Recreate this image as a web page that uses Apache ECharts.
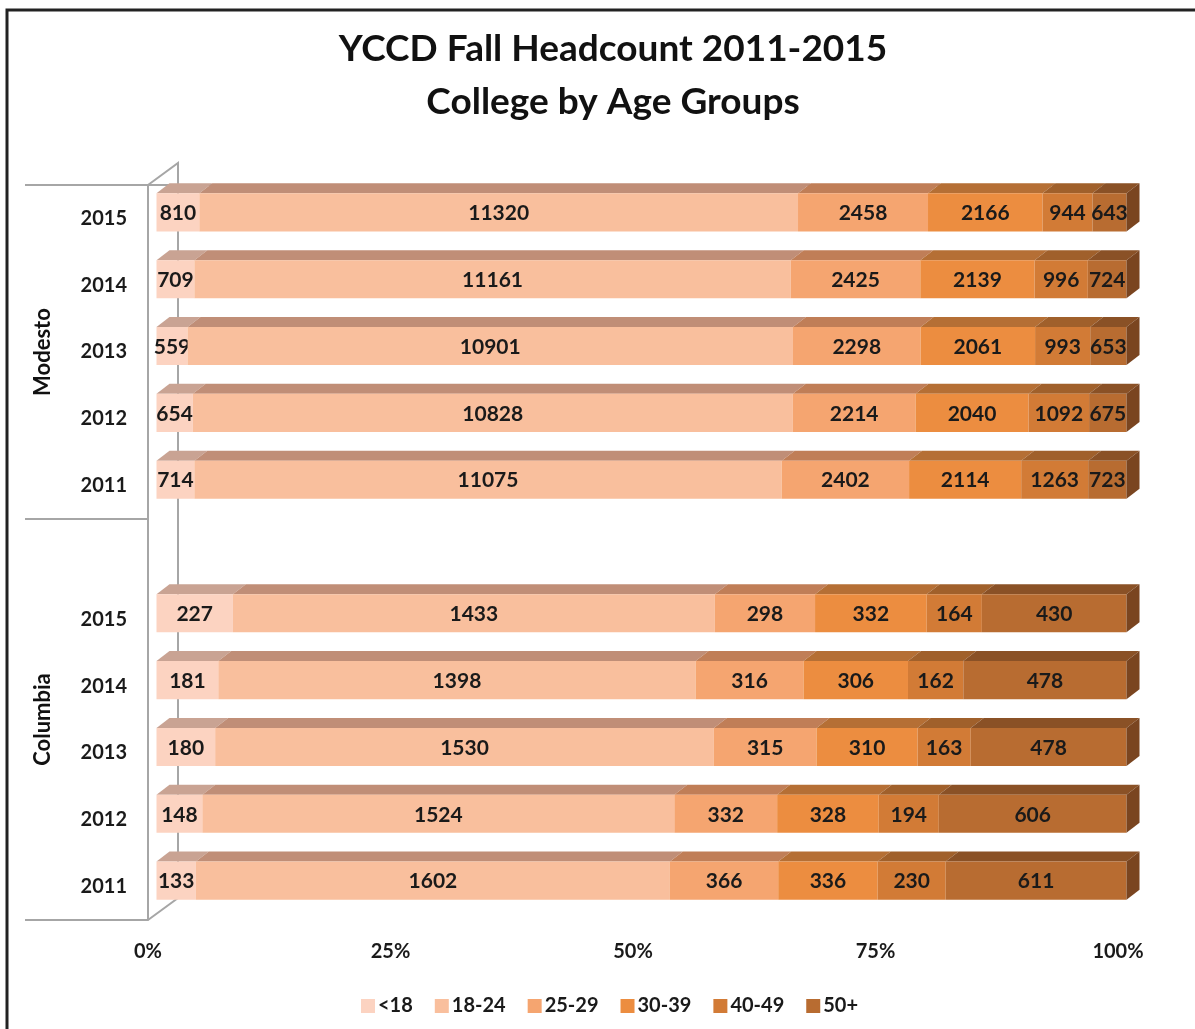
<!DOCTYPE html>
<html>
<head>
<meta charset="utf-8">
<title>YCCD Fall Headcount</title>
<script src="https://cdn.jsdelivr.net/npm/echarts@6/dist/echarts.min.js"></script>
<style>
  html, body { margin: 0; padding: 0; background: #fff; }
  #chart { width: 1195px; height: 1029px; }
</style>
</head>
<body>
<div id="chart"></div>
<script>
// rows top to bottom: Modesto 2015..2011, a blank row, Columbia 2015..2011
var rowLabels = ['2015', '2014', '2013', '2012', '2011', '', '2015', '2014', '2013', '2012', '2011'];
var ageGroups = ['<18', '18-24', '25-29', '30-39', '40-49', '50+'];

var under18 = [810, 709, 559, 654, 714, null, 227, 181, 180, 148, 133];
var age18to24 = [11320, 11161, 10901, 10828, 11075, null, 1433, 1398, 1530, 1524, 1602];
var age25to29 = [2458, 2425, 2298, 2214, 2402, null, 298, 316, 315, 332, 366];
var age30to39 = [2166, 2139, 2061, 2040, 2114, null, 332, 306, 310, 328, 336];
var age40to49 = [944, 996, 993, 1092, 1263, null, 164, 162, 163, 194, 230];
var age50plus = [643, 724, 653, 675, 723, null, 430, 478, 478, 606, 611];

var colleges = ['Modesto', 'Columbia'];
var xTicks = [0, 25, 50, 75, 100];

var counts = [under18, age18to24, age25to29, age30to39, age40to49, age50plus];
var colors = ['#fcd3c1', '#f9bf9d', '#f5a570', '#ec8d40', '#d27b36', '#b86c31'];
var topColors = ['#c9a393', '#c08e77', '#c07e57', '#b56f35', '#a0602b', '#8a5126'];
var sideColor = '#7a4520';

// 3d look: walls are 30x22 deep, bars sit in the middle and are 13x10 deep
var gridLeft = 148, gridTop = 185, gridBottomY = 920, gridRightX = 1118;
var wallDx = 30, wallDy = 22;
var barDx = 13, barDy = 10;

// cumulative percentages for each row
var seriesData = ageGroups.map(function () { return []; });
rowLabels.forEach(function (label, r) {
    if (under18[r] == null) return;
    var total = 0;
    counts.forEach(function (arr) { total += arr[r]; });
    var acc = 0;
    counts.forEach(function (arr, s) {
        var start = acc / total * 100;
        acc += arr[r];
        seriesData[s].push([r, start, acc / total * 100, arr[r]]);
    });
});

function renderBar(params, api) {
    var row = api.value(0);
    var p0 = api.coord([api.value(1), row]);
    var p1 = api.coord([api.value(2), row]);
    var band = api.size([0, 1])[1];
    var h = band * 0.57;
    var shiftX = (wallDx - barDx) / 2, shiftY = (wallDy - barDy) / 2;
    var x0 = p0[0] + shiftX, x1 = p1[0] + shiftX;
    var yt = p0[1] - shiftY - h / 2, yb = yt + h;
    var s = params.seriesIndex;
    var children = [
        {
            type: 'polygon',
            shape: { points: [[x0, yt], [x1, yt], [x1 + barDx, yt - barDy], [x0 + barDx, yt - barDy]] },
            style: { fill: topColors[s] }
        },
        {
            type: 'rect',
            shape: { x: x0, y: yt, width: x1 - x0, height: h },
            style: { fill: colors[s] }
        }
    ];
    if (s === ageGroups.length - 1) {
        children.push({
            type: 'polygon',
            shape: { points: [[x1, yt], [x1 + barDx, yt - barDy], [x1 + barDx, yb - barDy], [x1, yb]] },
            style: { fill: sideColor }
        });
    }
    children.push({
        type: 'text',
        style: {
            text: String(api.value(3)),
            x: (x0 + x1) / 2,
            y: (yt + yb) / 2 + 1,
            align: 'center',
            verticalAlign: 'middle',
            fill: '#1a1a1a',
            font: 'bold 21px Lato'
        }
    });
    return { type: 'group', children: children };
}

var series = ageGroups.map(function (name, s) {
    return {
        name: name,
        type: 'custom',
        renderItem: renderBar,
        itemStyle: { color: colors[s] },
        encode: { x: [1, 2], y: 0 },
        data: seriesData[s],
        z: 2
    };
});

var wallStyle = { stroke: '#a6a6a6', lineWidth: 2 };

var myChart = echarts.init(document.getElementById('chart'));

var option = {
    backgroundColor: '#fff',
    animation: false,
    textStyle: { fontFamily: 'Lato' },
    title: {
        text: 'YCCD Fall Headcount 2011-2015\nCollege by Age Groups',
        left: 608,
        top: 18,
        textAlign: 'center',
        textStyle: { fontSize: 37, fontWeight: 'bold', color: '#111', lineHeight: 53, fontFamily: 'Lato' }
    },
    legend: {
        data: ageGroups,
        bottom: 8,
        left: 356,
        icon: 'rect',
        itemWidth: 14,
        itemHeight: 14,
        itemGap: 22,
        itemStyle: { borderWidth: 0 },
        textStyle: { fontSize: 20, fontWeight: 'bold', color: '#1a1a1a', padding: [0, 0, 0, -2] }
    },
    grid: {
        left: gridLeft,
        top: gridTop,
        width: gridRightX - gridLeft,
        height: gridBottomY - gridTop
    },
    xAxis: {
        type: 'value',
        min: 0,
        max: 100,
        interval: 25,
        axisLine: { show: true, lineStyle: { color: '#a6a6a6', width: 2 } },
        axisTick: { show: false },
        splitLine: { show: false },
        axisLabel: {
            margin: 22,
            formatter: function (v) { return xTicks.indexOf(v) >= 0 ? v + '%' : ''; },
            fontSize: 20,
            fontWeight: 'bold',
            color: '#1a1a1a'
        }
    },
    yAxis: [
        {
            type: 'category',
            data: rowLabels,
            inverse: true,
            axisLine: { show: true, lineStyle: { color: '#a6a6a6', width: 2 } },
            axisTick: { show: false },
            axisLabel: { margin: 21, fontSize: 20, fontWeight: 'bold', color: '#1a1a1a' }
        },
        {
            type: 'value',
            min: 0,
            max: rowLabels.length,
            inverse: true,
            position: 'left',
            axisLine: { show: false },
            splitLine: { show: false },
            axisTick: { show: true, length: 123, customValues: [0, 5, rowLabels.length], lineStyle: { color: '#a6a6a6', width: 2 } },
            axisLabel: {
                customValues: [2.5, 8],
                formatter: function (v) { return v < 5 ? colleges[0] : colleges[1]; },
                rotate: 90,
                margin: 94,
                fontSize: 22,
                fontWeight: 'bold',
                color: '#111'
            }
        }
    ],
    graphic: [
        // outer frame
        {
            type: 'rect',
            shape: { x: 7, y: 10, width: 1200, height: 1040 },
            style: { fill: null, stroke: '#222', lineWidth: 3 },
            z: 10
        },
        // back wall and floor edges
        {
            type: 'polyline',
            shape: { points: [[gridLeft, gridTop], [gridLeft + wallDx, gridTop - wallDy], [gridLeft + wallDx, gridBottomY - wallDy], [gridLeft, gridBottomY]] },
            style: wallStyle,
            z: 0
        }
    ],
    series: series
};

myChart.setOption(option);
</script>
</body>
</html>
